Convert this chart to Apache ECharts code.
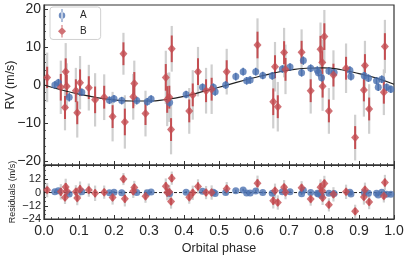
<!DOCTYPE html>
<html><head><meta charset="utf-8">
<script src="https://cdn.jsdelivr.net/npm/echarts@6/dist/echarts.min.js"></script>
<style>html,body{margin:0;padding:0;background:#fff}#c{width:407px;height:255px}</style>
</head><body><div id="c"></div>
<script>
// ---- data ----
const phaseA = [0.031,0.041,0.072,0.108,0.187,0.200,0.222,0.265,0.295,0.306,0.359,0.406,0.453,0.484,0.489,0.519,0.548,0.569,0.579,0.589,0.605,0.625,0.652,0.681,0.703,0.736,0.741,0.762,0.781,0.784,0.793,0.814,0.829,0.874,0.877,0.915,0.927,0.950,0.955,0.965,0.979,0.991];
const rvA    = [0.0,0.6,-3.2,-1.9,-4.0,-3.6,-4.1,-4.1,-4.4,-3.7,-4.6,-2.5,-0.6,-0.6,-1.8,0.0,2.2,3.5,1.1,1.3,3.5,2.5,2.4,4.2,4.7,3.2,6.4,4.4,3.9,3.2,1.9,3.7,3.3,3.9,2.2,2.4,1.8,1.1,-0.6,1.5,-0.6,-1.1];
const errA   = [1.0,1.0,1.1,1.0,1.0,1.0,1.0,1.0,1.0,1.0,1.1,1.0,1.0,1.0,1.0,1.0,1.0,1.0,1.0,1.0,1.0,1.0,1.0,1.0,1.0,1.0,1.1,1.0,1.0,1.0,1.0,1.0,1.0,1.0,1.0,1.0,1.0,1.0,1.0,1.0,1.0,1.0];

const phaseB = [0.009,0.048,0.060,0.062,0.065,0.091,0.095,0.103,0.128,0.146,0.172,0.196,0.227,0.231,0.255,0.258,0.290,0.348,0.352,0.358,0.363,0.365,0.415,0.425,0.440,0.463,0.479,0.522,0.610,0.655,0.660,0.668,0.686,0.690,0.736,0.762,0.790,0.795,0.796,0.801,0.814,0.827,0.863,0.889,0.914,0.917,0.929,0.971,0.974];
const rvB    = [2.0,-0.6,-5.9,3.5,-0.3,-1.5,-7.3,0.6,-0.7,-3.9,-3.2,-8.3,8.2,-9.7,-3.1,0.4,-7.5,2.0,-3.8,-3.2,-11.7,9.5,-6.8,-2.6,3.5,-1.5,-1.1,3.5,10.5,-4.4,4.8,-5.7,8.5,4.1,8.6,-1.5,9.4,5.9,-0.3,12.7,-6.8,2.6,4.4,-13.8,-1.3,5.1,-6.3,-1.9,10.1];
const errB   = [2.8,3.5,3.0,3.5,3.0,3.0,3.0,3.5,3.0,3.5,3.0,3.0,3.0,3.5,3.0,3.0,3.0,3.5,3.5,3.0,3.0,3.5,3.0,3.0,3.5,3.0,3.0,3.0,3.5,3.5,3.0,3.0,3.0,3.0,3.0,3.0,3.5,3.0,3.0,3.5,3.0,3.0,3.0,3.0,3.0,3.0,3.0,3.0,3.5];
const jitB   = [6.5,7.0,6.0,7.5,6.0,6.0,6.5,7.0,6.0,7.0,6.0,6.5,5.5,7.0,6.0,6.0,6.0,7.0,7.0,6.5,6.5,6.0,6.0,6.5,6.5,6.0,6.5,6.0,7.0,7.0,6.5,6.5,6.5,6.5,6.0,6.0,7.0,6.0,6.5,7.0,6.0,6.5,6.5,6.0,7.0,6.5,6.5,6.0,7.0];

const modelPhase = [0,0.05,0.1,0.15,0.2,0.25,0.3,0.35,0.4,0.45,0.5,0.55,0.6,0.65,0.7,0.75,0.8,0.85,0.9,0.95,1.0];
const modelRV    = [0.0,-1.3,-2.4,-3.3,-3.9,-4.2,-4.2,-3.8,-3.0,-1.8,-0.6,0.7,1.9,3.0,3.9,4.4,4.5,4.0,3.0,1.8,0.2];

const xTicks = [0,0.1,0.2,0.3,0.4,0.5,0.6,0.7,0.8,0.9,1.0];
const rvTicks = [-20,-10,0,10,20];
const resTicks = [-24,-12,0,12];
const colA = '#4C72B0', colB = '#C44E52', colGray = '#cfcfcf', txt = '#262626';

// ---- derived ----
function modelAt(p){
  let i = 0;
  while (i < modelPhase.length-2 && p > modelPhase[i+1]) i++;
  const t = (p - modelPhase[i])/(modelPhase[i+1]-modelPhase[i]);
  return modelRV[i] + t*(modelRV[i+1]-modelRV[i]);
}
const resA = rvA.map((v,i)=> v - modelAt(phaseA[i]));
const resB = rvB.map((v,i)=> v - modelAt(phaseB[i]));

function bars(ph, val, err){ return ph.map((p,i)=>[p, val[i]-err[i], val[i]+err[i]]); }
function pts(ph, val){ return ph.map((p,i)=>[p, val[i]]); }
function minorList(lo, hi, step, majors){ const a=[]; for(let v=lo; v<=hi+1e-9; v+=step){ const r=Math.round(v*1000)/1000; if(!majors.some(m=>Math.abs(m-r)<1e-9)) a.push(r);} return a; }
const fmtMinus = v => String(v).replace('-', '\u2212');

function errSeries(name, grid, data, color, width){
  return {
    name: name, type:'custom', xAxisIndex: grid*2, yAxisIndex: grid*2, clip:true, silent:true, z:2,
    encode:{x:0, y:[1,2]},
    renderItem: function(params, api){
      const a = api.coord([api.value(0), api.value(1)]);
      const b = api.coord([api.value(0), api.value(2)]);
      return {type:'line', shape:{x1:a[0], y1:a[1], x2:b[0], y2:b[1]}, style:{stroke:color, lineWidth:width}};
    },
    data: data
  };
}

const chart = echarts.init(document.getElementById('c'), null, {renderer:'canvas'});
const axisLineStyle = {color:'#333', width:1.2};
function xAxisDef(grid, pos, labels, show){
  return {
    type:'value', gridIndex:grid, min:0, max:1, interval:0.1, position:pos, show:show,
    axisLine:{show:true, onZero:false, lineStyle:axisLineStyle},
    axisTick:{show:true, inside:true, length:4, lineStyle:{color:'#333', width:1}},
    minorTick:{show:true, splitNumber:5, length:2, lineStyle:{color:'#333', width:0.8}},
    splitLine:{show:false},
    axisLabel:{show:labels, color:txt, fontSize:14, fontFamily:'Liberation Sans', margin:5, formatter:v=>v.toFixed(1)},
    name: labels ? 'Orbital phase' : '', nameLocation:'middle', nameGap:23,
    nameTextStyle:{color:txt, fontSize:12.5, fontFamily:'Liberation Sans'}
  };
}
function yAxisDef(grid, min, max, majors, minors, name, nameSize, nameGap, labelSize, minorLen){
  return [{
    type:'value', gridIndex:grid, min:min, max:max, position:'left',
    axisLine:{show:true, onZero:false, lineStyle:axisLineStyle},
    axisTick:{show:true, inside:true, length:4, customValues:majors, lineStyle:{color:'#333', width:1}},
    axisLabel:{show:true, customValues:majors, color:txt, fontSize:labelSize, fontFamily:'Liberation Sans', margin:3, formatter:fmtMinus},
    splitLine:{show:false},
    name:name, nameLocation:'middle', nameGap:nameGap, nameMoveOverlap:false,
    nameTextStyle:{color:txt, fontSize:nameSize, fontFamily:'Liberation Sans'}
  },{
    type:'value', gridIndex:grid, min:min, max:max, position:'left',
    axisLine:{show:false},
    axisTick:{show:true, inside:true, length:minorLen, customValues:minors, lineStyle:{color:'#333', width:0.8}},
    axisLabel:{show:false}, splitLine:{show:false}
  }];
}

const option = {
  animation:false,
  backgroundColor:'#fff',
  grid:[
    {left:44, top:5, width:350, height:160, show:true, borderColor:'#333', borderWidth:1.2, backgroundColor:'transparent', containLabel:false, outerBoundsMode:'none'},
    {left:44, top:165, width:350, height:54, show:true, borderColor:'#333', borderWidth:1.2, backgroundColor:'transparent', containLabel:false, outerBoundsMode:'none'}
  ],
  xAxis:[ xAxisDef(0,'bottom',false,true), xAxisDef(0,'top',false,false), xAxisDef(1,'bottom',true,true), xAxisDef(1,'top',false,true) ],
  yAxis:[].concat(
    yAxisDef(0,-21,21,rvTicks,minorList(-20,20,2,rvTicks),'RV (m/s)',12.5,27,14,2),
    yAxisDef(1,-24,25,resTicks,minorList(-24,24,4,resTicks),'Residuals (m/s)',9,27,11,2)
  ),
  legend:{
    left:50, top:7, orient:'vertical', itemGap:3, itemWidth:8, itemHeight:13,
    padding:[2,14,2,8], borderColor:'#d0d0d0', borderWidth:1, borderRadius:3,
    backgroundColor:'rgba(255,255,255,0.85)',
    textStyle:{color:txt, fontSize:10, fontFamily:'Liberation Sans', padding:[0,0,0,9]},
    data:[
      {name:'A', icon:'path://M4.4,0H5.6V14H4.4Z M1.5,7a3.5,3.5 0 1,0 7,0a3.5,3.5 0 1,0 -7,0Z'},
      {name:'B', icon:'path://M4.4,0H5.6V14H4.4Z M5,2.5L9.5,7L5,11.5L0.5,7Z'}
    ]
  },
  series:[
    // upper panel
    errSeries('gB', 0, bars(phaseB, rvB, jitB), colGray, 2.2),
    errSeries('eB', 0, bars(phaseB, rvB, errB), colB, 2),
    errSeries('eA', 0, bars(phaseA, rvA, errA), colA, 1.5),
    {name:'model', type:'line', xAxisIndex:0, yAxisIndex:0, data:pts(modelPhase, modelRV), smooth:true, showSymbol:false, symbol:'none', lineStyle:{color:'#222', width:1.2}, z:3, silent:true},
    {name:'A', type:'scatter', xAxisIndex:0, yAxisIndex:0, data:pts(phaseA, rvA), symbol:'circle', symbolSize:7, itemStyle:{color:colA}, z:4},
    {name:'B', type:'scatter', xAxisIndex:0, yAxisIndex:0, data:pts(phaseB, rvB), symbol:'diamond', symbolSize:[8,9], itemStyle:{color:colB}, z:5},
    // lower panel
    {name:'zero', type:'line', xAxisIndex:2, yAxisIndex:2, data:[[0,0],[1,0]], showSymbol:false, symbol:'none', lineStyle:{color:'#222', width:1, type:[3,2]}, z:3, silent:true},
    errSeries('gB2', 1, bars(phaseB, resB, jitB), colGray, 2.2),
    errSeries('eB2', 1, bars(phaseB, resB, errB), colB, 2),
    errSeries('eA2', 1, bars(phaseA, resA, errA), colA, 1.5),
    {name:'A', type:'scatter', xAxisIndex:2, yAxisIndex:2, data:pts(phaseA, resA), symbol:'circle', symbolSize:7, itemStyle:{color:colA}, z:4},
    {name:'B', type:'scatter', xAxisIndex:2, yAxisIndex:2, data:pts(phaseB, resB), symbol:'diamond', symbolSize:[8,9], itemStyle:{color:colB}, z:5}
  ]
};
chart.setOption(option);
</script>
</body></html>
